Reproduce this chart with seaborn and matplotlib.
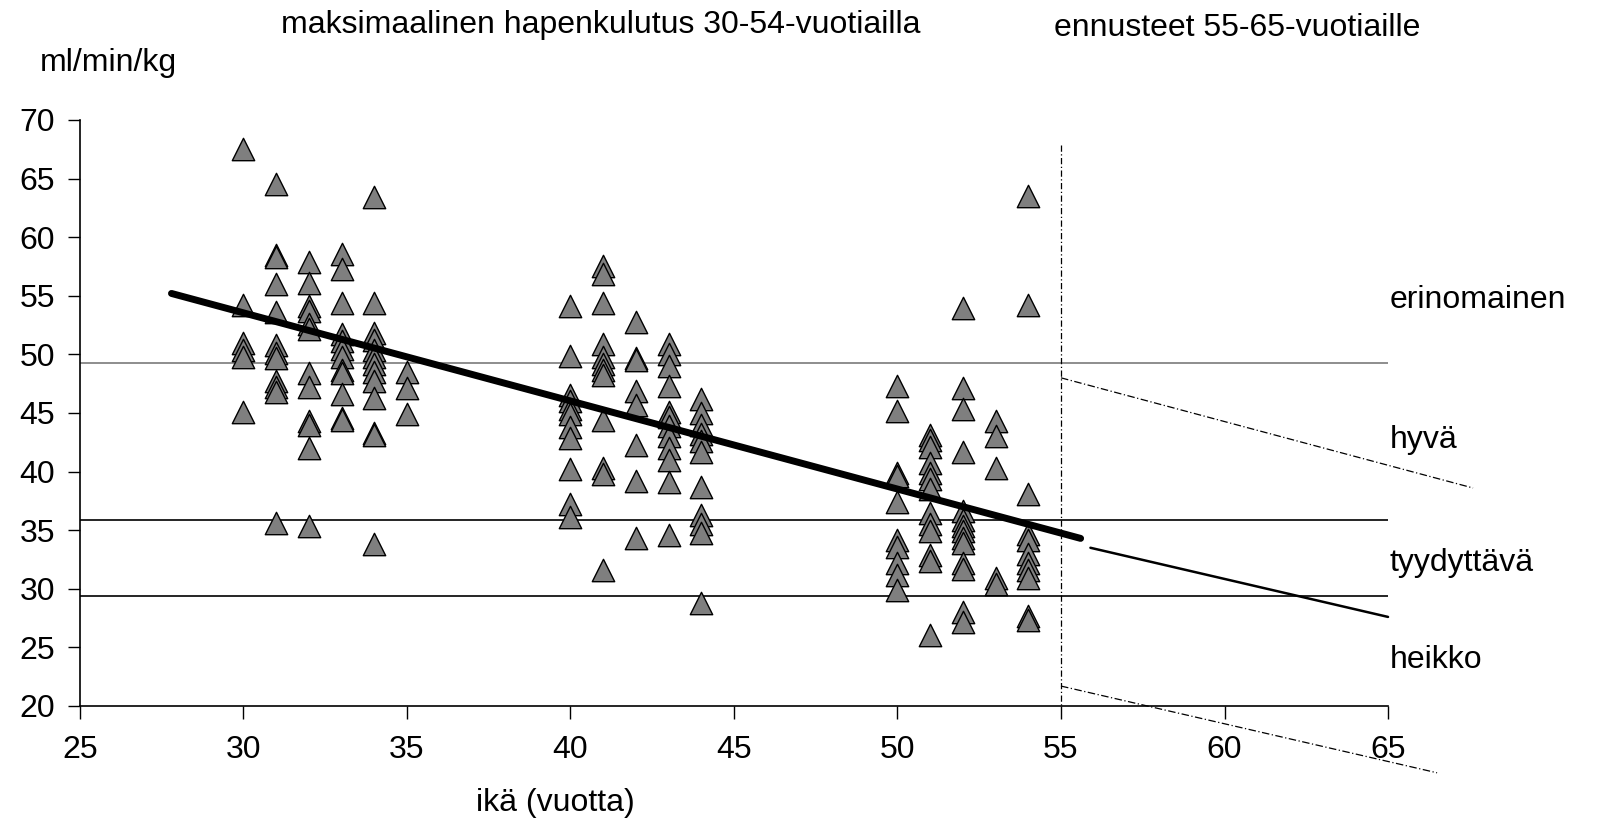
import numpy as np
import pandas as pd
import matplotlib
matplotlib.use('Agg')
import matplotlib.pyplot as plt
import seaborn as sns

# Havainnot: ikä ja maksimaalinen hapenkulutus (ml/min/kg)
ika_30 = [67.5, 54.2, 51.0, 50.4, 49.8, 45.1]
ika_31 = [64.5, 58.5, 58.3, 56.0, 53.6, 50.8, 50.1, 49.7, 47.7, 47.2, 46.8, 35.6]
ika_32 = [57.9, 56.1, 54.1, 53.7, 52.6, 52.2, 48.4, 47.2, 44.3, 44.0, 42.0, 35.4]
ika_33 = [58.6, 57.3, 54.4, 51.7, 51.1, 50.5, 49.8, 48.7, 48.4, 46.6, 44.6, 44.4]
ika_34 = [63.4, 54.4, 51.8, 51.2, 50.4, 49.8, 49.2, 48.5, 47.7, 46.3, 43.3, 43.1, 33.8]
ika_35 = [48.5, 47.1, 44.9]
ika_40 = [54.1, 49.9, 46.5, 46.0, 45.3, 44.9, 43.8, 42.9, 40.2, 37.2, 36.1]
ika_41 = [57.5, 56.9, 54.4, 50.9, 49.8, 49.2, 48.7, 48.2, 44.4, 40.3, 39.8, 31.6]
ika_42 = [52.8, 49.7, 49.5, 46.9, 45.7, 42.3, 39.2, 34.3]
ika_43 = [50.9, 50.0, 49.0, 47.3, 45.1, 44.7, 43.9, 43.0, 42.0, 41.0, 39.1, 34.6]
ika_44 = [46.2, 45.0, 44.0, 43.2, 42.6, 41.7, 38.7, 36.3, 35.5, 34.8, 28.8]
ika_50 = [47.3, 45.2, 39.9, 39.6, 37.4, 34.2, 33.6, 32.2, 31.2, 29.9]
ika_51 = [43.1, 42.7, 42.1, 40.7, 39.9, 39.4, 38.5, 36.5, 35.5, 34.9, 32.9, 32.4, 26.1]
ika_52 = [54.0, 47.1, 45.3, 41.7, 36.6, 35.9, 35.4, 34.9, 34.3, 33.9, 32.2, 31.7, 28.0, 27.2]
ika_53 = [44.3, 43.0, 40.3, 30.9, 30.4]
ika_54 = [63.5, 54.2, 38.1, 34.7, 34.2, 33.0, 32.2, 31.6, 30.9, 27.7, 27.3]

havainnot = {30: ika_30, 31: ika_31, 32: ika_32, 33: ika_33, 34: ika_34, 35: ika_35,
             40: ika_40, 41: ika_41, 42: ika_42, 43: ika_43, 44: ika_44,
             50: ika_50, 51: ika_51, 52: ika_52, 53: ika_53, 54: ika_54}

# Viivat (päätepisteet)
regressio_x = [27.8, 55.6]
regressio_y = [55.2, 34.3]
ennuste_x = [55.9, 65.0]
ennuste_y = [33.5, 27.6]
ylaraja_x = [55.0, 67.6]
ylaraja_y = [48.0, 38.6]
alaraja_x = [55.0, 66.5]
alaraja_y = [21.7, 14.3]
rajat = [49.3, 35.9, 29.4]
rajat_varit = ['#7a7a7a', 'black', 'black']

luokat = ['erinomainen', 'hyvä', 'tyydyttävä', 'heikko']
luokat_y = [54.6, 42.7, 32.2, 23.9]

x_ticks = [25, 30, 35, 40, 45, 50, 55, 60, 65]
y_ticks = [20, 25, 30, 35, 40, 45, 50, 55, 60, 65, 70]

df = pd.DataFrame([(ika, v) for ika, arvot in havainnot.items() for v in arvot],
                  columns=['ika', 'vo2max'])

sns.set_style('white')
plt.rcParams['font.family'] = ['Liberation Sans', 'DejaVu Sans']
plt.rcParams['text.color'] = 'black'
FS = 23

fig = plt.figure(figsize=(15.98, 8.35), dpi=100)
ax = fig.add_axes([0.050, 0.1545, 0.8186, 0.7018])

# Raja-arvot
for r, c in zip(rajat, rajat_varit):
    ax.plot([25, 65], [r, r], color=c, lw=1.2, zorder=1)

# Pisteet
sns.scatterplot(data=df, x='ika', y='vo2max', marker='^', s=260, color='#7f7f7f',
                edgecolor='black', linewidth=1.0, ax=ax, zorder=3, legend=False)

# Regressiosuora ja ennusteet
ax.plot(regressio_x, regressio_y, color='black', lw=5, solid_capstyle='round', zorder=4)
ax.plot(ennuste_x, ennuste_y, color='black', lw=1.8, zorder=4, clip_on=False)
ax.plot(ylaraja_x, ylaraja_y, color='black', lw=0.9, ls=(0, (6, 2, 1, 2)), zorder=4, clip_on=False)
ax.plot(alaraja_x, alaraja_y, color='black', lw=0.9, ls=(0, (6, 2, 1, 2)), zorder=4, clip_on=False)
ax.plot([55, 55], [67.9, 20], color='black', lw=0.9, ls=(0, (5, 2, 1, 2)), zorder=4)

ax.set_xlim(25, 65)
ax.set_ylim(20, 70)
ax.set_xticks(x_ticks)
ax.set_yticks(y_ticks)
ax.tick_params(axis='both', labelsize=FS, length=9, width=1, color='black',
               labelcolor='black', direction='out', bottom=True, left=True)
ax.tick_params(axis='x', pad=12)
ax.tick_params(axis='y', pad=9)
ax.set_xlabel('')
ax.set_ylabel('')
sns.despine(ax=ax)
for s in ['left', 'bottom']:
    ax.spines[s].set_color('black')
    ax.spines[s].set_linewidth(1.2)

# Luokkien nimet
for nimi, y in zip(luokat, luokat_y):
    ax.text(65.05, y, nimi, fontsize=FS, va='center', ha='left', color='black')

fig.text(40 / 1598, 1 - 63 / 835, 'ml/min/kg', fontsize=FS, va='center', ha='left')
fig.text(601 / 1598, 1 - 25 / 835, 'maksimaalinen hapenkulutus 30-54-vuotiailla',
         fontsize=FS, va='center', ha='center')
fig.text(1237 / 1598, 1 - 28 / 835, 'ennusteet 55-65-vuotiaille',
         fontsize=FS, va='center', ha='center')
fig.text(555 / 1598, 1 - 803 / 835, 'ikä (vuotta)', fontsize=FS, va='center', ha='center')

plt.savefig('out.png', dpi=100)
